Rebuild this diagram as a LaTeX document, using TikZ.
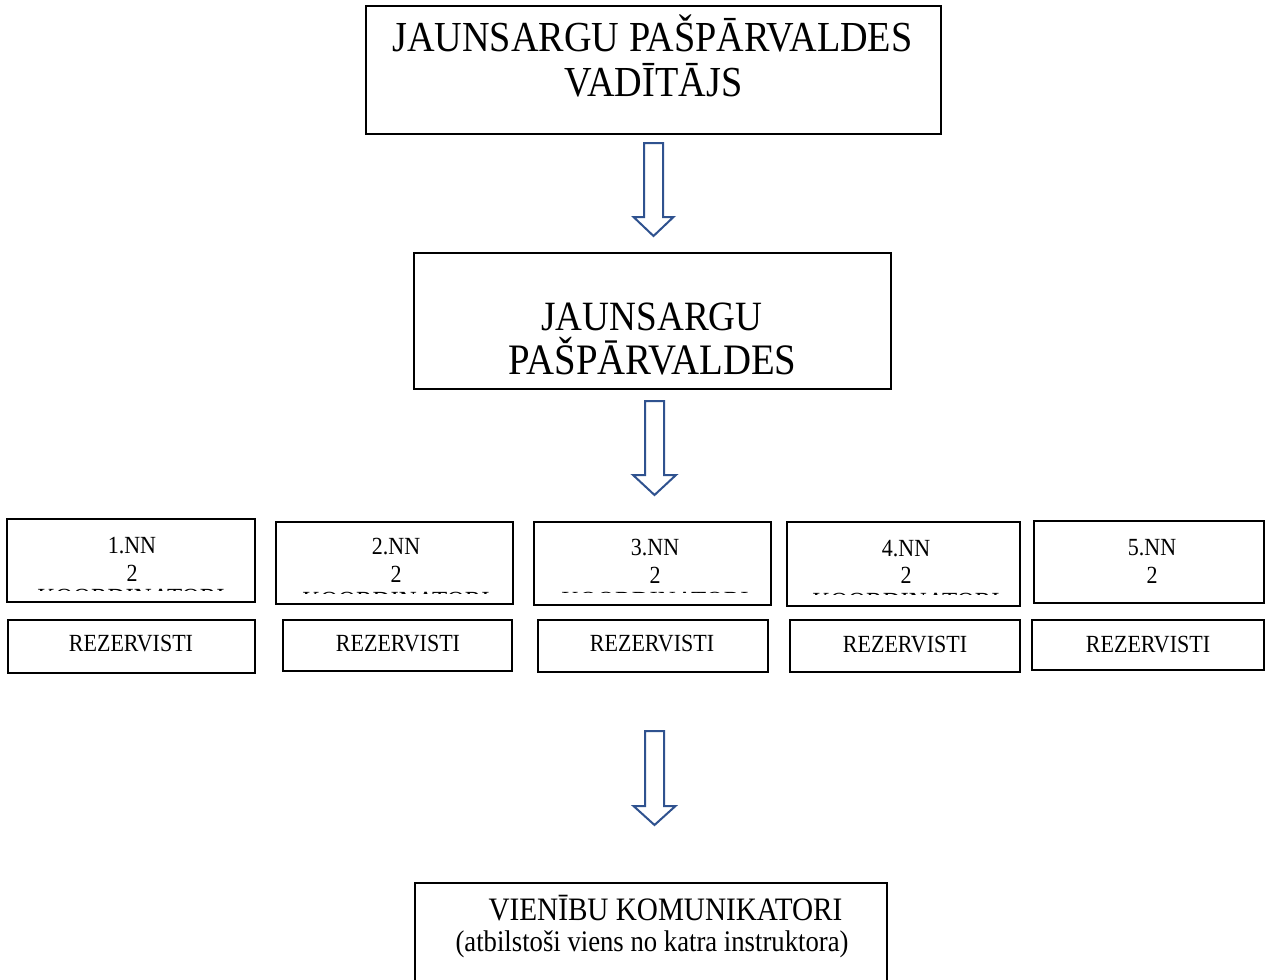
\documentclass[tikz,border=0pt]{standalone}
\usepackage{graphicx}
\usepackage{fontspec}
\setmainfont{Liberation Serif}
\definecolor{arrowblue}{RGB}{47,82,143}
\newcommand{\vs}[1]{\scalebox{1}[1.12]{#1}}
\newcommand{\vw}[1]{\scalebox{1.13}[1.12]{#1}}
\newcommand{\blockarr}[6]{%
  \draw[arrowshape] ({#1-#5},#2) -- ({#1+#5},#2) -- ({#1+#5},#3) -- ({#1+#6},#3)
    -- (#1,#4) -- ({#1-#6},#3) -- ({#1-#5},#3) -- cycle;}
\tikzset{
  box/.style={draw=black, line width=1.5pt, inner sep=0pt},
  txt/.style={inner sep=0pt, anchor=base, font=\fontsize{#1}{#1}\selectfont},
  smalltxt/.style={txt=22},
  arrowshape/.style={draw=arrowblue, line width=2pt, line join=miter, fill=white}
}
\begin{document}
\begin{tikzpicture}[x=1pt,y=-1pt]
\useasboundingbox (0,0) rectangle (1265,979);

% top box
\node[box, minimum width=575pt, minimum height=128pt] (top) at (653.5,70) {};
\node[txt=38.2] (topA) at (652.5,52) {\vs{JAUNSARGU PAŠPĀRVALDES}};
\node[txt=38.2] (topB) at (653.5,97) {\vs{VADĪTĀJS}};

% middle box
\node[box, minimum width=477pt, minimum height=136pt] (mid) at (652.5,321) {};
\node[txt=37.2] (midA) at (652,330) {\vs{JAUNSARGU}};
\node[txt=38.8] (midB) at (652.5,374) {\vs{PAŠPĀRVALDES}};

% arrows
\blockarr{653.5}{143}{217}{236}{9.5}{20}
\blockarr{654.5}{401}{475}{495}{9.5}{21.5}
\blockarr{654.5}{731}{806}{825}{9.5}{21}

% NN boxes
\node[box, minimum width=248pt, minimum height=83pt] (b1) at (131,560.5) {};
\node[box, minimum width=237pt, minimum height=82pt] (b2) at (394.5,563) {};
\node[box, minimum width=237pt, minimum height=83pt] (b3) at (652.5,563.5) {};
\node[box, minimum width=233pt, minimum height=84pt] (b4) at (903.5,564) {};
\node[box, minimum width=230pt, minimum height=82pt] (b5) at (1149,562) {};

\node[smalltxt] (b1a) at (132,553) {\vs{1.NN}};
\node[smalltxt] (b1b) at (132,581) {\vs{2}};
\node[smalltxt] (b2a) at (396,554) {\vs{2.NN}};
\node[smalltxt] (b2b) at (396,582) {\vs{2}};
\node[smalltxt] (b3a) at (655,555) {\vs{3.NN}};
\node[smalltxt] (b3b) at (655,583) {\vs{2}};
\node[smalltxt] (b4a) at (906,556) {\vs{4.NN}};
\node[smalltxt] (b4b) at (906,583) {\vs{2}};
\node[smalltxt] (b5a) at (1152,555) {\vs{5.NN}};
\node[smalltxt] (b5b) at (1152,583) {\vs{2}};

% clipped third lines
\begin{scope}
  \clip (10,580) rectangle (250,590.2);
  \node[smalltxt] (b1c) at (131,605.3) {\vw{KOORDINATORI}};
\end{scope}
\begin{scope}
  \clip (280,585) rectangle (510,593.2);
  \node[smalltxt] (b2c) at (396,608.3) {\vw{KOORDINATORI}};
\end{scope}
\begin{scope}
  \clip (538,585) rectangle (768,592.0);
  \node[smalltxt] (b3c) at (655,608.3) {\vw{KOORDINATORI}};
\end{scope}
\begin{scope}
  \clip (790,585) rectangle (1017,594.2);
  \node[smalltxt] (b4c) at (906,609.3) {\vw{KOORDINATORI}};
\end{scope}

% REZERVISTI boxes
\node[box, minimum width=247pt, minimum height=53pt] (r1) at (131.5,646.5) {};
\node[box, minimum width=229pt, minimum height=51pt] (r2) at (397.5,645.5) {};
\node[box, minimum width=230pt, minimum height=52pt] (r3) at (653,646) {};
\node[box, minimum width=230pt, minimum height=52pt] (r4) at (905,646) {};
\node[box, minimum width=232pt, minimum height=50pt] (r5) at (1148,645) {};
\node[smalltxt] (r1t) at (131,651) {\vs{REZERVISTI}};
\node[smalltxt] (r2t) at (398,651) {\vs{REZERVISTI}};
\node[smalltxt] (r3t) at (652,651) {\vs{REZERVISTI}};
\node[smalltxt] (r4t) at (905,652) {\vs{REZERVISTI}};
\node[smalltxt] (r5t) at (1148,652) {\vs{REZERVISTI}};

% bottom box (bottom edge outside the picture)
\node[inner sep=0pt, minimum width=472pt, minimum height=98pt] (bot) at (651,932) {};
\draw[line width=1.5pt] (bot.south west) -- (bot.north west) -- (bot.north east) -- (bot.south east);
\node[txt=29.2] (botA) at (665.5,920) {\vs{VIENĪBU KOMUNIKATORI}};
\node[txt=26.7] (botB) at (652,951) {\vs{(atbilstoši viens no katra instruktora)}};
\end{tikzpicture}
\end{document}
